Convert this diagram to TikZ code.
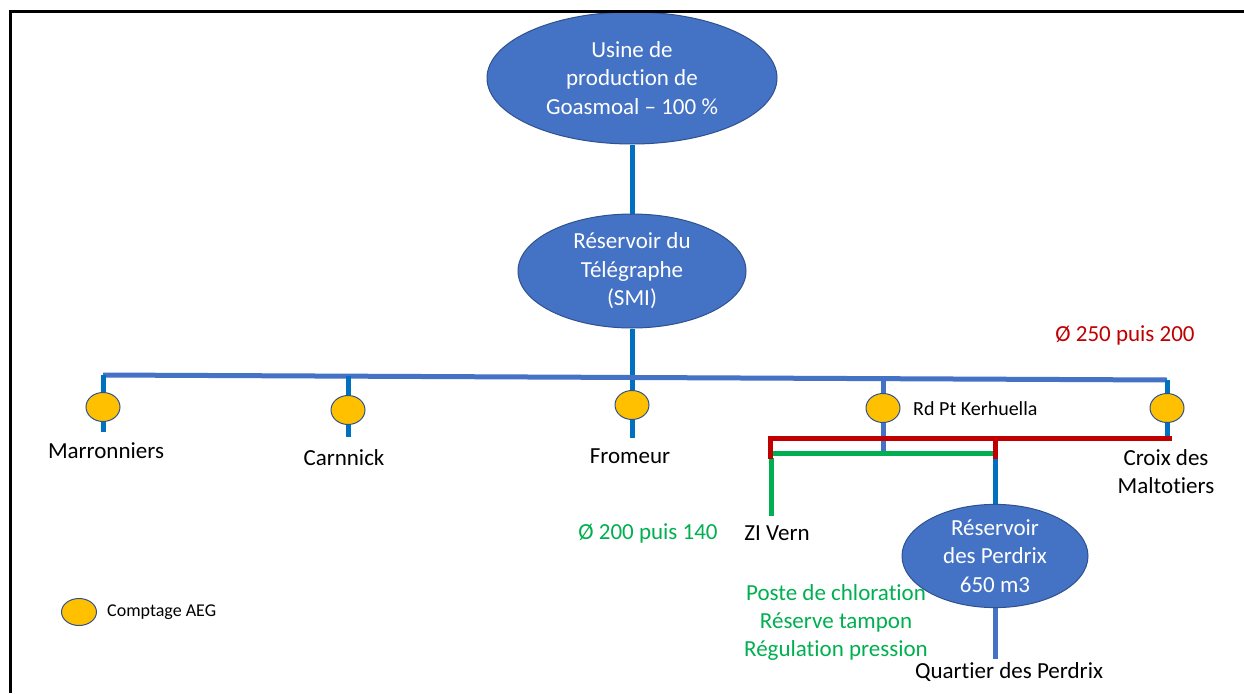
\documentclass[tikz,border=0pt]{standalone}
\usepackage{fontspec}
\setmainfont{Carlito}[Ligatures={NoCommon}]
\usetikzlibrary{shapes.geometric}
\definecolor{obl}{HTML}{4472C4}
\definecolor{dbl}{HTML}{2F528F}
\definecolor{pipe}{HTML}{0070C0}
\definecolor{ored}{HTML}{C00000}
\definecolor{ogreen}{HTML}{00B050}
\definecolor{oyel}{HTML}{FFC000}
\pgfdeclarelayer{bg}
\pgfsetlayers{bg,main}
\begin{document}
\begin{tikzpicture}[x=1pt,y=-1pt,
 res/.style={ellipse, fill=obl, draw=dbl, line width=1pt, text=white, align=center, font=\fontsize{23}{28.5}\selectfont, inner sep=0pt},
 meter/.style={ellipse, fill=oyel, draw=dbl, line width=1pt, minimum width=34pt, minimum height=29pt, inner sep=0pt},
 lbl/.style={align=center, font=\fontsize{23}{28}\selectfont, inner sep=0pt},
 small/.style={font=\fontsize{20}{24}\selectfont, inner sep=0pt, anchor=west},
 bpipe/.style={draw=pipe, line width=5pt},
 hpipe/.style={draw=obl, line width=5pt},
 rpipe/.style={draw=ored, line width=5pt},
 gpipe/.style={draw=ogreen, line width=5pt}]
\useasboundingbox (0,0) rectangle (1244,693);

% reservoirs
\node[res, minimum width=290pt, minimum height=132pt] (usine) at (632,78) {Usine de\\production de\\Goasmoal -- 100 \%};
\node[res, minimum width=228pt, minimum height=114pt] (tele) at (632,271) {Réservoir du\\Télégraphe\\(SMI)};
\node[res, minimum width=186pt, minimum height=92pt] (perd) at (995,556) {Réservoir\\des Perdrix\\650 m3};

% meters
\node[meter] (m1) at (103,407) {};
\node[meter] (m2) at (348,410) {};
\node[meter] (m3) at (632,405) {};
\node[meter] (m4) at (883,408) {};
\node[meter] (m5) at (1167,408) {};
\node[meter, minimum width=35pt, minimum height=27pt] (leg) at (79,612) {};

% coordinates
\coordinate (j1) at (103,375);
\coordinate (j2) at (348,376.2);
\coordinate (j3) at (632,377.5);
\coordinate (j4) at (883,378.7);
\coordinate (j5) at (1167,380);
\coordinate (e1) at (103,432);
\coordinate (e2) at (348,437);
\coordinate (e3) at (632,438);
\coordinate (e4) at (883,453);
\coordinate (e5) at (1167,438);
\coordinate (rL) at (770,438);
\coordinate (rR) at (1172,438);
\coordinate (rLd) at (770,459);
\coordinate (rM) at (995,438);
\coordinate (rMd) at (995,459);
\coordinate (gL) at (772,453);
\coordinate (gR) at (994,453);
\coordinate (gT) at (771,458);
\coordinate (gB) at (771,516);
\coordinate (qB) at (995,659);

\begin{pgfonlayer}{bg}
\fill[white] (0,0) rectangle (1244,693);
\draw[bpipe] (usine.south) -- (tele.north);
\draw[bpipe] (tele.south) -- (e3);
\draw[hpipe] (j1) -- (j5);
\draw[bpipe] (j1) -- (e1);
\draw[bpipe] (j2) -- (e2);
\draw[hpipe] (j4) -- (e4);
\draw[bpipe] (j5) -- (e5);
\draw[gpipe] (gL) -- (gR);
\draw[gpipe] (gT) -- (gB);
\draw[rpipe, miter limit=10] (rLd) -- (rL) -- (rR);
\draw[rpipe] (rM) -- (rMd);
\draw[bpipe] (rMd) -- (perd.north);
\draw[hpipe] (perd.south) -- (qB);
\end{pgfonlayer}

% labels
\node[lbl] (lmar) at (106,451) {Marronniers};
\node[lbl] (lcar) at (344,458) {Carnnick};
\node[lbl] (lfro) at (630,456) {Fromeur};
\node[small] (lker) at (913,409) {Rd Pt Kerhuella};
\node[lbl] (lcro) at (1166,472) {Croix des\\Maltotiers};
\node[lbl] (lzi) at (777,533) {ZI Vern};
\node[lbl, text=ogreen] (d200) at (648,533) {Ø 200 puis 140};
\node[lbl, text=ored] (d250) at (1125,335) {Ø 250 puis 200};
\node[lbl, text=ogreen] (lpost) at (836,622) {Poste de chloration\\Réserve tampon\\Régulation pression};
\node[lbl] (lqua) at (1009,672) {Quartier des Perdrix};
\node[small, font=\fontsize{18}{22}\selectfont] (lleg) at (107,612) {Comptage AEG};

% frame
\draw[line width=3pt] (10,693) -- (10,12) -- (1244,12);
\end{tikzpicture}
\end{document}
